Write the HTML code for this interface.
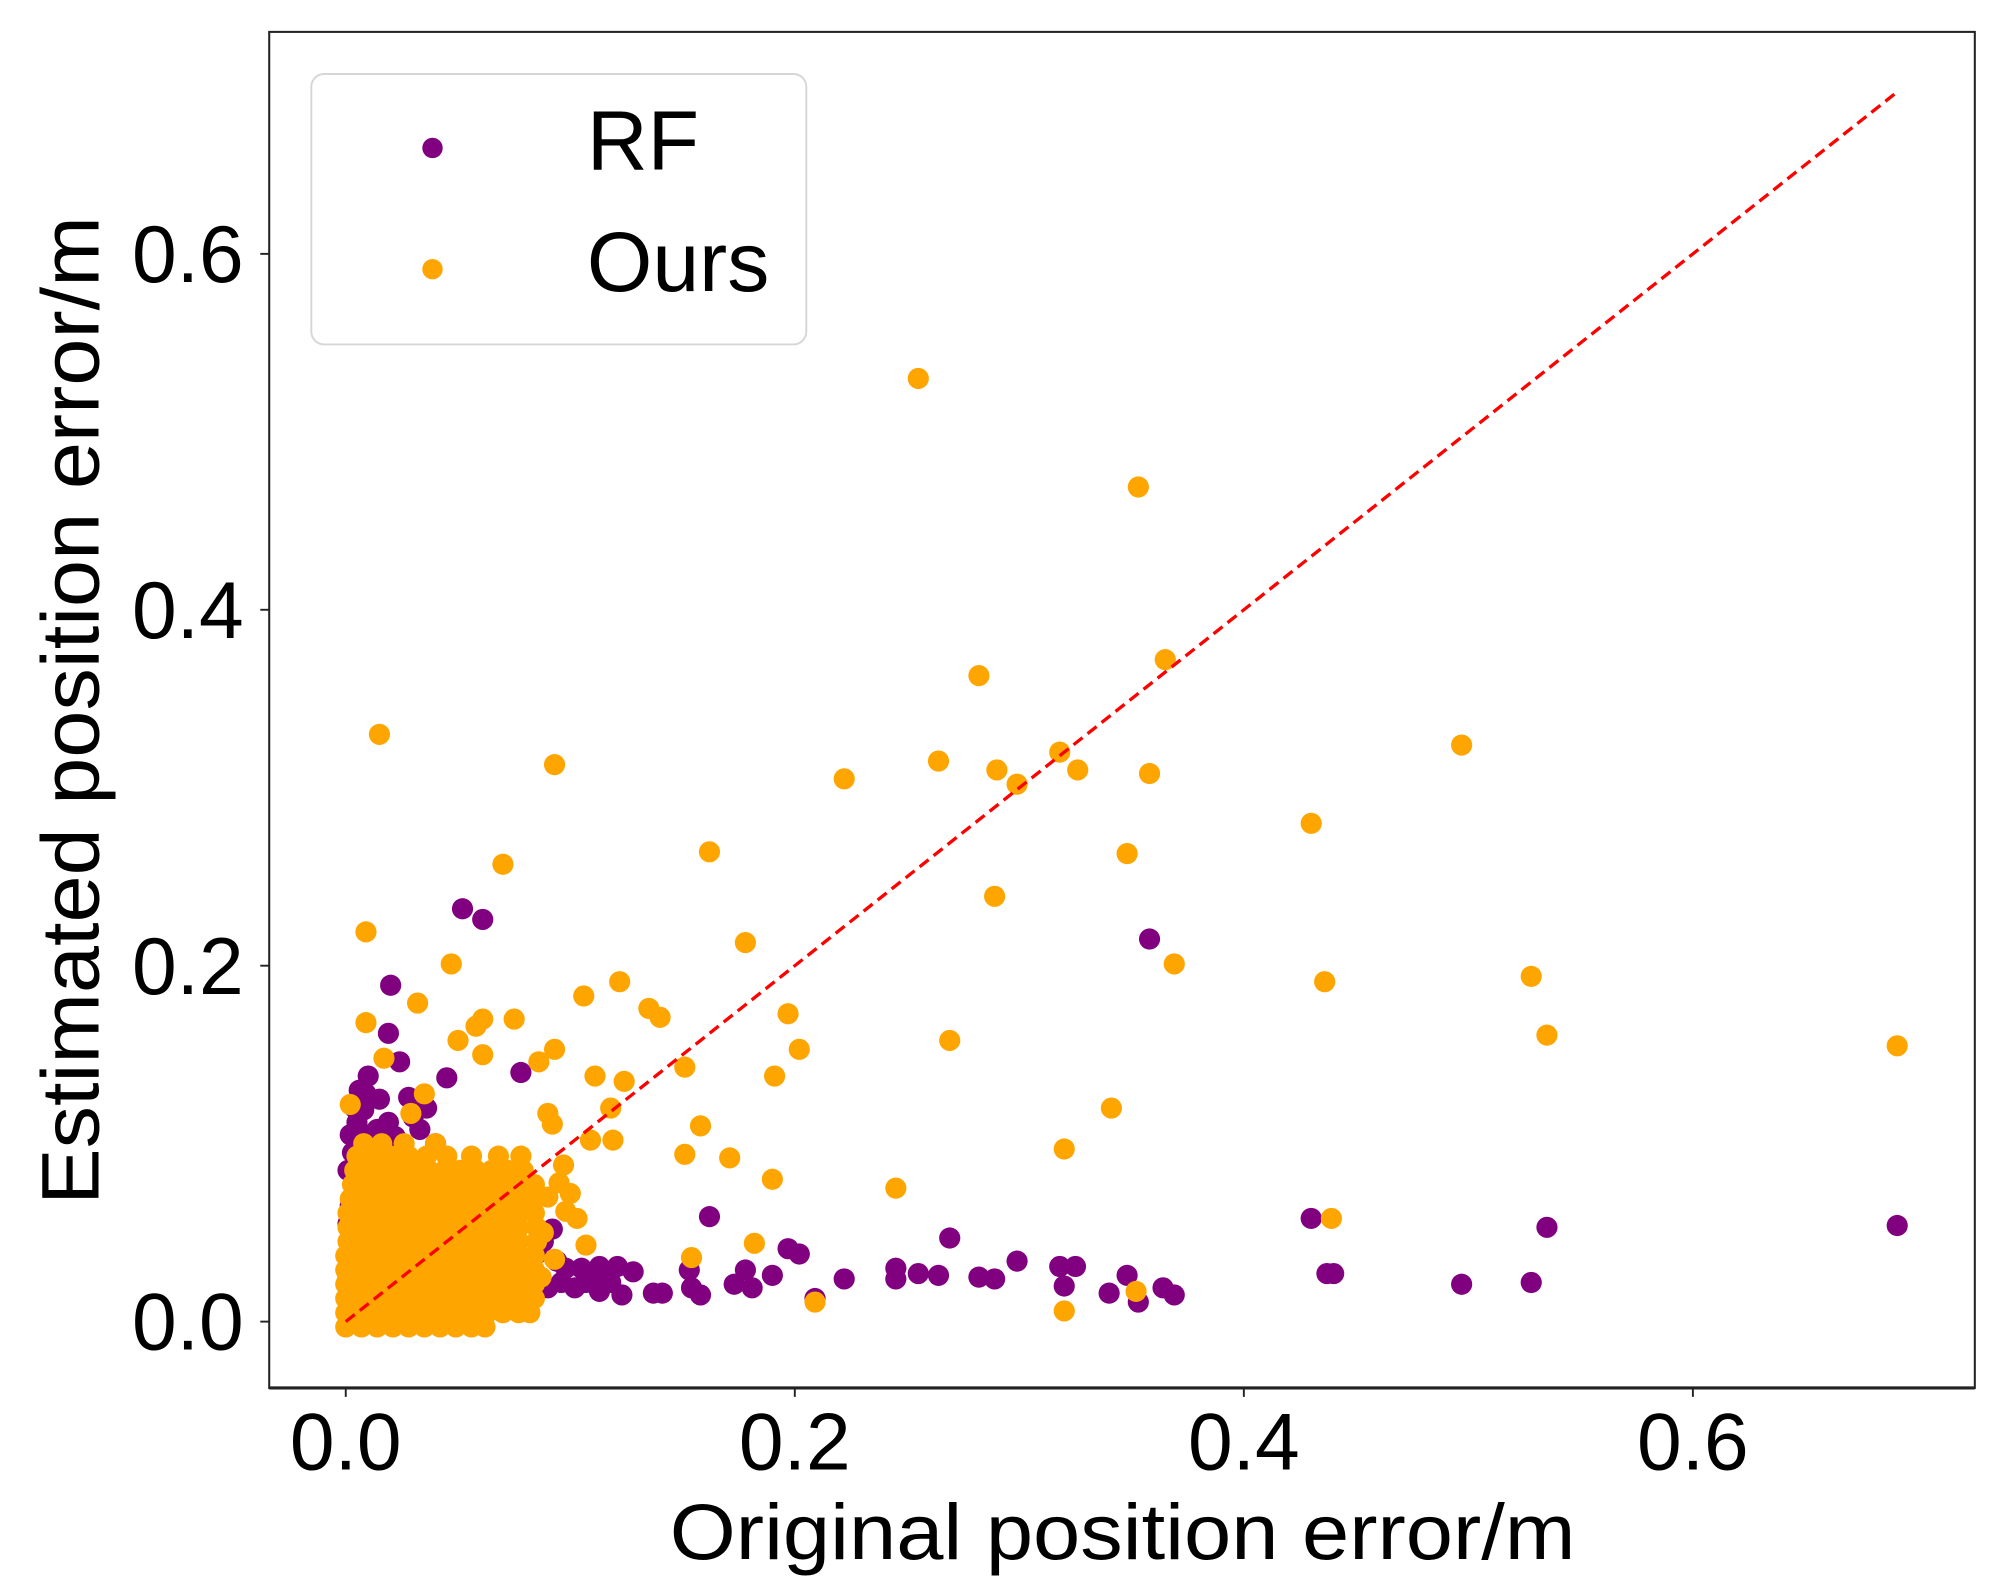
<!DOCTYPE html>
<html><head><meta charset="utf-8"><style>html,body{margin:0;padding:0;background:#fff}svg{display:block}text{font-family:"Liberation Sans",Arial,sans-serif;fill:#000}</style></head>
<body>
<svg id="chart" width="1994" height="1595" viewBox="0 0 1563 1250.3" xmlns="http://www.w3.org/2000/svg">
<rect x="0" y="0" width="1563" height="1251" fill="#fff"/>
<g id="marks"></g>
<rect x="211" y="25" width="1337" height="1063" fill="none" stroke="#222" stroke-width="1.6"/>
<line x1="211" y1="1088" x2="1548" y2="1088" stroke="#222" stroke-width="2.5"/>
<g id="ticks"></g>
<text x="880" y="1222" font-size="62" text-anchor="middle" textLength="710" lengthAdjust="spacingAndGlyphs">Original position error/m</text>
<text transform="translate(77,557) rotate(-90)" font-size="64" text-anchor="middle" textLength="775" lengthAdjust="spacingAndGlyphs">Estimated position error/m</text>
<g>
<rect x="244" y="58" width="388" height="212" rx="10" fill="#fff" fill-opacity="0.85" stroke="#d6d6d6" stroke-width="1.5"/>
<circle cx="339" cy="116" r="8" fill="#800080"/>
<text x="460" y="133" font-size="66">RF</text>
<circle cx="339" cy="211" r="8" fill="#ffa500"/>
<text x="460" y="228" font-size="66">Ours</text>
</g>
</svg>
<script>
const xTicks = [0.0, 0.2, 0.4, 0.6];
const yTicks = [0.0, 0.2, 0.4, 0.6];
const xTickLabels = ["0.0", "0.2", "0.4", "0.6"];
const yTickLabels = ["0.0", "0.2", "0.4", "0.6"];
const refLine = [0, 0.691];

const rfX = [0.020,0.019,0.024,0.010,0.045,0.078,0.052,0.061,0.358,0.162,0.430,0.535,0.691,0.269,0.299,0.197,0.202,0.178,0.190,0.173,0.181,0.222,0.245,0.245,0.255,0.264,0.282,0.289,0.318,0.325,0.320,0.348,0.340,0.353,0.364,0.369,0.437,0.440,0.497,0.528,0.209,0.153,0.154,0.158,0.137,0.141,0.121,0.118,0.123,0.113,0.107,0.102,0.096,0.090,0.113,0.128,0.098,0.094,0.008,0.015,0.007,0.019,0.022,0.028,0.012,0.030,0.036,0.003,0.002,0.001,0.002,0.003,0.001,0.002,0.004,0.001,0.003,0.002,0.005,0.004,0.009,0.014,0.040,0.026,0.033,0.017,0.006,0.088,0.092,0.085,0.080,0.075,0.105,0.110];
const rfY = [0.189,0.162,0.146,0.138,0.137,0.140,0.232,0.226,0.215,0.059,0.058,0.053,0.054,0.047,0.034,0.041,0.038,0.029,0.026,0.021,0.019,0.024,0.030,0.024,0.027,0.026,0.025,0.024,0.031,0.031,0.020,0.026,0.016,0.011,0.019,0.015,0.027,0.027,0.021,0.022,0.013,0.029,0.019,0.015,0.016,0.016,0.031,0.022,0.015,0.031,0.022,0.019,0.022,0.019,0.017,0.028,0.030,0.034,0.119,0.125,0.106,0.112,0.104,0.126,0.098,0.115,0.120,0.005,0.015,0.025,0.035,0.045,0.055,0.065,0.075,0.085,0.095,0.105,0.112,0.120,0.128,0.108,0.100,0.090,0.108,0.098,0.130,0.045,0.052,0.038,0.012,0.007,0.030,0.025];

const oursX = [0.255,0.353,0.365,0.282,0.497,0.015,0.093,0.222,0.264,0.290,0.299,0.318,0.326,0.358,0.430,0.348,0.162,0.070,0.289,0.009,0.178,0.047,0.369,0.436,0.528,0.122,0.106,0.135,0.140,0.197,0.075,0.061,0.009,0.032,0.058,0.050,0.535,0.269,0.202,0.691,0.093,0.086,0.061,0.151,0.191,0.111,0.124,0.341,0.118,0.158,0.017,0.035,0.002,0.029,0.090,0.092,0.109,0.119,0.151,0.171,0.320,0.190,0.245,0.097,0.098,0.103,0.439,0.107,0.182,0.154,0.209,0.320,0.352,0.076,0.081,0.090,0.095,0.088,0.093,0.100,0.087];
const oursY = [0.530,0.469,0.372,0.363,0.324,0.330,0.313,0.305,0.315,0.310,0.302,0.320,0.310,0.308,0.280,0.263,0.264,0.257,0.239,0.219,0.213,0.201,0.201,0.191,0.194,0.191,0.183,0.176,0.171,0.173,0.170,0.170,0.168,0.179,0.166,0.158,0.161,0.158,0.153,0.155,0.153,0.146,0.150,0.143,0.138,0.138,0.135,0.120,0.120,0.110,0.148,0.128,0.122,0.117,0.117,0.111,0.102,0.102,0.094,0.092,0.097,0.080,0.075,0.088,0.062,0.058,0.058,0.043,0.044,0.036,0.011,0.006,0.017,0.009,0.013,0.070,0.078,0.050,0.035,0.072,0.025];

// dense cluster rows (y value + x values read per row)
const oursClusterY = [-0.003,0.005,0.013,0.021,0.029,0.037,0.045,0.053,0.061,0.069,0.077,0.085,0.093,0.100];
const oursClusterX = [
 [0.000,0.007,0.014,0.021,0.028,0.035,0.042,0.049,0.056,0.062],
 [0.000,0.007,0.014,0.021,0.028,0.035,0.042,0.049,0.056,0.063,0.070,0.077,0.082],
 [0.000,0.007,0.014,0.021,0.028,0.035,0.042,0.049,0.056,0.063,0.070,0.077,0.084],
 [0.000,0.007,0.014,0.021,0.028,0.035,0.042,0.049,0.056,0.063,0.070,0.077,0.084],
 [0.000,0.007,0.014,0.021,0.028,0.035,0.042,0.049,0.056,0.063,0.070,0.077,0.084],
 [0.000,0.007,0.014,0.021,0.028,0.035,0.042,0.049,0.056,0.063,0.070,0.077,0.084],
 [0.001,0.007,0.014,0.021,0.028,0.035,0.042,0.049,0.056,0.063,0.070,0.077,0.085],
 [0.001,0.007,0.014,0.021,0.028,0.035,0.042,0.049,0.056,0.063,0.070,0.077,0.085],
 [0.001,0.007,0.014,0.021,0.028,0.035,0.042,0.049,0.056,0.063,0.070,0.077,0.084],
 [0.002,0.007,0.014,0.021,0.028,0.035,0.042,0.049,0.056,0.063,0.070,0.077,0.084],
 [0.003,0.008,0.014,0.021,0.028,0.035,0.042,0.049,0.056,0.063,0.070,0.077,0.084],
 [0.004,0.010,0.016,0.023,0.030,0.037,0.044,0.051,0.058,0.065,0.072,0.079],
 [0.005,0.012,0.020,0.028,0.036,0.045,0.056,0.068,0.078],
 [0.008,0.016,0.026,0.040]
];

const NS = "http://www.w3.org/2000/svg";
function xs(v){ return 271 + 1760 * v; }
function ys(v){ return 1036 - 1395 * v; }
const marks = document.getElementById('marks');
const ticks = document.getElementById('ticks');

xTicks.forEach((t,i)=>{
  const l = document.createElementNS(NS,'line');
  l.setAttribute('x1',xs(t)); l.setAttribute('x2',xs(t)); l.setAttribute('y1',1088); l.setAttribute('y2',1095);
  l.setAttribute('stroke','#222'); l.setAttribute('stroke-width','1.5');
  
  
  ticks.appendChild(l);
  const tx = document.createElementNS(NS,'text');
  tx.setAttribute('x',xs(t)); tx.setAttribute('y',1152); tx.setAttribute('font-size','63'); tx.setAttribute('text-anchor','middle');
  tx.textContent = xTickLabels[i];
  
  
  ticks.appendChild(tx);
});
yTicks.forEach((t,i)=>{
  const l = document.createElementNS(NS,'line');
  l.setAttribute('x1',204); l.setAttribute('x2',211); l.setAttribute('y1',ys(t)); l.setAttribute('y2',ys(t));
  l.setAttribute('stroke','#222'); l.setAttribute('stroke-width','1.5');
  
  
  ticks.appendChild(l);
  const tx = document.createElementNS(NS,'text');
  tx.setAttribute('x',191); tx.setAttribute('y',ys(t)+22); tx.setAttribute('font-size','63'); tx.setAttribute('text-anchor','end');
  tx.textContent = yTickLabels[i];
  
  
  ticks.appendChild(tx);
});

function dot(x,y,color,name){
  const c = document.createElementNS(NS,'circle');
  c.setAttribute('cx',xs(x)); c.setAttribute('cy',ys(y)); c.setAttribute('r','8.3'); c.setAttribute('fill',color);
  
  
  marks.appendChild(c);
}
rfX.forEach((x,i)=>dot(x,rfY[i],'#800080','rf-point'));
oursClusterY.forEach((y,r)=>oursClusterX[r].forEach(x=>dot(x,y,'#ffa500','ours-point')));
oursX.forEach((x,i)=>dot(x,oursY[i],'#ffa500','ours-point'));

const ln = document.createElementNS(NS,'line');
ln.setAttribute('x1',xs(refLine[0])); ln.setAttribute('y1',ys(refLine[0]));
ln.setAttribute('x2',xs(refLine[1])); ln.setAttribute('y2',ys(refLine[1]));
ln.setAttribute('stroke','#ff0000'); ln.setAttribute('stroke-width','2.6'); ln.setAttribute('stroke-dasharray','9 5');


marks.appendChild(ln);
</script>
</body></html>
